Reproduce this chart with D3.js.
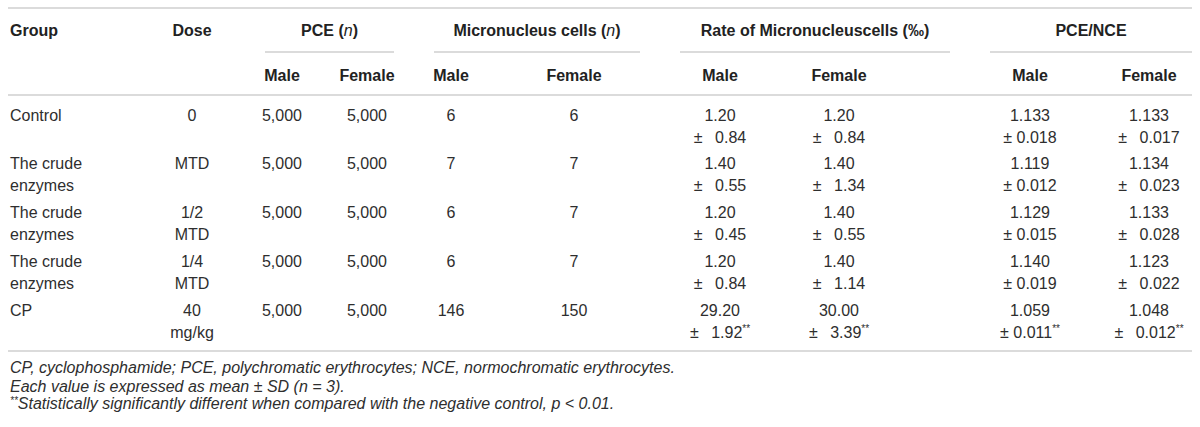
<!DOCTYPE html>
<html>
<head>
<meta charset="utf-8">
<script src="https://cdn.jsdelivr.net/npm/d3@7"></script>
<style>
  body { margin: 0; background: #fff; }
  text { font-family: "Liberation Sans", Arial, sans-serif; white-space: pre; }
</style>
</head>
<body>
<script>
// table values
const groups = ["Control", "The crude\nenzymes", "The crude\nenzymes", "The crude\nenzymes", "CP"];
const doses = ["0", "MTD", "1/2\nMTD", "1/4\nMTD", "40\nmg/kg"];
const pceMale = [5000, 5000, 5000, 5000, 5000];
const pceFemale = [5000, 5000, 5000, 5000, 5000];
const mnMale = [6, 7, 6, 6, 146];
const mnFemale = [6, 7, 7, 7, 150];
const rateMaleMean = [1.20, 1.40, 1.20, 1.20, 29.20];
const rateMaleSD = [0.84, 0.55, 0.45, 0.84, 1.92];
const rateFemaleMean = [1.20, 1.40, 1.40, 1.40, 30.00];
const rateFemaleSD = [0.84, 1.34, 0.55, 1.14, 3.39];
const ratioMaleMean = [1.133, 1.119, 1.129, 1.140, 1.059];
const ratioMaleSD = [0.018, 0.012, 0.015, 0.019, 0.011];
const ratioFemaleMean = [1.133, 1.134, 1.133, 1.123, 1.048];
const ratioFemaleSD = [0.017, 0.023, 0.028, 0.022, 0.012];
const significant = [false, false, false, false, true];

const headGroups = [
  {label: "PCE (", ital: "n", tail: ")", cols: ["pceM", "pceF"]},
  {label: "Micronucleus cells (", ital: "n", tail: ")", cols: ["mnM", "mnF"]},
  {label: "Rate of Micronucleuscells (\u2030)", ital: "", tail: "", cols: ["rateM", "rateF"]},
  {label: "PCE/NCE", ital: "", tail: "", cols: ["ratioM", "ratioF"]}
];
const subHeads = ["Male", "Female"];
const notes = [
  "CP, cyclophosphamide; PCE, polychromatic erythrocytes; NCE, normochromatic erythrocytes.",
  "Each value is expressed as mean \u00b1 SD (n = 3).",
  "Statistically significantly different when compared with the negative control, p < 0.01."
];

let width = 1200;
let height = 427;

let cols = ["group", "dose", "pceM", "pceF", "mnM", "mnF", "rateM", "rateF", "ratioM", "ratioF"];
let x = d3.scaleOrdinal()
    .domain(cols)
    .range([10, 192, 282, 367, 451, 574, 720, 839, 1030, 1149]);

// span of the underline below each grouped header
let span = d3.scaleOrdinal()
    .domain(headGroups.map(d => d.label))
    .range([[265, 394], [434, 640], [680, 950], [990, 1192]]);

let y = d3.scalePoint()
    .domain(d3.range(groups.length))
    .range([115, 310]);
let lineH = 22;

let svg = d3.select("body")
    .append("svg")
    .attr("width", width)
    .attr("height", height);

let ink = "#2e2e2e";
let rule = "#cfcfcf";
let fs = 16;

// horizontal rules
svg.selectAll("line.rule")
    .data([8, 95, 351])
    .enter()
    .append("line")
    .attr("class", "rule")
    .attr("x1", 8).attr("x2", 1192)
    .attr("y1", d => d).attr("y2", d => d)
    .attr("stroke", rule)
    .attr("stroke-width", 1.6);

// header row 1
let head = svg.append("g")
    .attr("font-weight", "bold")
    .attr("font-size", fs)
    .attr("fill", "#222");

head.append("text").attr("x", x("group")).attr("y", 30).attr("dy", "0.35em").text("Group");
head.append("text").attr("x", x("dose")).attr("y", 30).attr("dy", "0.35em")
    .attr("text-anchor", "middle").text("Dose");

let hg = head.selectAll("g.hg")
    .data(headGroups)
    .enter()
    .append("g")
    .attr("class", "hg");

hg.append("text")
    .attr("x", d => (span(d.label)[0] + span(d.label)[1]) / 2)
    .attr("y", 30)
    .attr("dy", "0.35em")
    .attr("text-anchor", "middle")
    .each(function(d) {
      let t = d3.select(this);
      t.append("tspan").text(d.label);
      if (d.ital) {
        t.append("tspan").attr("font-style", "italic").attr("font-weight", "normal").text(d.ital);
        t.append("tspan").text(d.tail);
      }
    });

hg.append("line")
    .attr("x1", d => span(d.label)[0])
    .attr("x2", d => span(d.label)[1])
    .attr("y1", 52).attr("y2", 52)
    .attr("stroke", rule)
    .attr("stroke-width", 1.6);

// header row 2
hg.selectAll("text.sub")
    .data(d => d.cols.map((c, i) => ({col: c, label: subHeads[i]})))
    .enter()
    .append("text")
    .attr("class", "sub")
    .attr("x", d => x(d.col))
    .attr("y", 75)
    .attr("dy", "0.35em")
    .attr("text-anchor", "middle")
    .text(d => d.label);

// body cells
let f0 = d3.format(",");
let f2 = d3.format(".2f");
let f3 = d3.format(".3f");
let wide = "\u00b1\u2002 ";
let thin = "\u00b1 ";

let rows = groups.map((g, i) => [
  {col: "group", lines: g.split("\n")},
  {col: "dose", lines: doses[i].split("\n")},
  {col: "pceM", lines: [f0(pceMale[i])]},
  {col: "pceF", lines: [f0(pceFemale[i])]},
  {col: "mnM", lines: [String(mnMale[i])]},
  {col: "mnF", lines: [String(mnFemale[i])]},
  {col: "rateM", lines: [f2(rateMaleMean[i]), wide + f2(rateMaleSD[i])], star: significant[i]},
  {col: "rateF", lines: [f2(rateFemaleMean[i]), wide + f2(rateFemaleSD[i])], star: significant[i]},
  {col: "ratioM", lines: [f3(ratioMaleMean[i]), thin + f3(ratioMaleSD[i])], star: significant[i]},
  {col: "ratioF", lines: [f3(ratioFemaleMean[i]), wide + f3(ratioFemaleSD[i])], star: significant[i]}
]);

let body = svg.append("g")
    .attr("font-size", fs)
    .attr("fill", ink);

let rowG = body.selectAll("g.row")
    .data(rows)
    .enter()
    .append("g")
    .attr("class", "row")
    .attr("transform", (d, i) => `translate(0, ${y(i)})`);

rowG.selectAll("text")
    .data(d => d)
    .enter()
    .append("text")
    .attr("x", d => x(d.col))
    .attr("text-anchor", d => d.col === "group" ? "start" : "middle")
    .each(function(d) {
      let t = d3.select(this);
      d.lines.forEach((ln, k) => {
        t.append("tspan")
          .attr("x", x(d.col))
          .attr("y", k * lineH)
          .attr("dy", "0.35em")
          .text(ln);
      });
      if (d.star) {
        t.append("tspan")
          .attr("font-size", 10)
          .attr("dy", "-0.6em")
          .text("**");
      }
    });

// footnotes
let foot = svg.append("g")
    .attr("font-size", fs)
    .attr("font-style", "italic")
    .attr("fill", ink);

foot.selectAll("text")
    .data(notes)
    .enter()
    .append("text")
    .attr("x", 10)
    .attr("y", (d, i) => 367 + i * 19.5)
    .attr("dy", "0.35em")
    .each(function(d, i) {
      let t = d3.select(this);
      if (i === 2) {
        t.append("tspan").attr("font-size", 10).attr("dy", "-0.2em").text("**");
        t.append("tspan").attr("dy", "0.3em").text(d);
      } else {
        t.text(d);
      }
    });
</script>
</body>
</html>
